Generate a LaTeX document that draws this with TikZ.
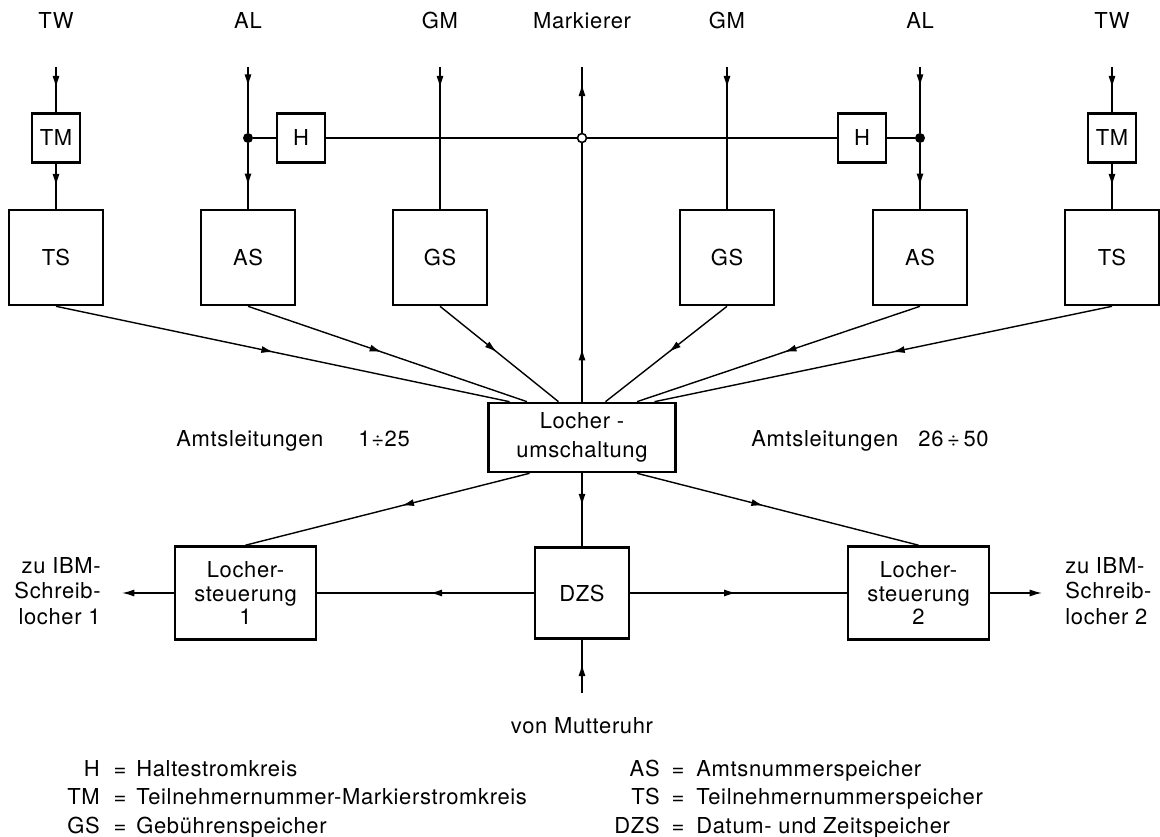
\documentclass[tikz,border=0pt]{standalone}
\usepackage{fontspec}
\setmainfont{TeX Gyre Heros}[LetterSpace=3]
\usetikzlibrary{arrows.meta,decorations.markings}
\tikzset{
  blk/.style={draw,line width=1.5pt,inner sep=0pt,align=center},
  bigblk/.style={blk,minimum width=1.88cm,minimum height=1.9cm},
  smallblk/.style={blk,minimum width=0.96cm,minimum height=0.98cm},
  lbl/.style={inner sep=0pt},
  wire/.style={line width=0.8pt},
  fwd/.style={postaction={decorate,decoration={markings,
      mark=at position #1 with {\arrow{Latex[length=7pt,width=4pt]}}}}},
  fwd/.default=0.5,
  outarr/.style={wire,-{Latex[length=7pt,width=4pt]}},
  joint/.style={circle,fill,inner sep=0pt,minimum size=0.2cm},
  ring/.style={circle,draw,fill=white,line width=0.9pt,inner sep=0pt,minimum size=0.18cm},
}
\begin{document}
\begin{tikzpicture}[x=0.02cm,y=-0.02cm,font=\fontsize{12.5}{15}\selectfont]
  \useasboundingbox (0,0) rectangle (1160,837);
  % top labels
  \node[lbl] (twl1) at (56,21) {TW};
  \node[lbl] (all1) at (248,21) {AL};
  \node[lbl] (gml1) at (440,21) {GM};
  \node[lbl] (mkl) at (582,21) {Markierer};
  \node[lbl] (gml2) at (727,21) {GM};
  \node[lbl] (all2) at (920,21) {AL};
  \node[lbl] (twl2) at (1112,21) {TW};
  \coordinate (tw1in) at (56,67);
  \coordinate (al1in) at (248,67);
  \coordinate (gm1in) at (440,67);
  \coordinate (mkout) at (582,67);
  \coordinate (gm2in) at (727,67);
  \coordinate (al2in) at (920,67);
  \coordinate (tw2in) at (1112,67);
  % blocks
  \node[smallblk] (tm1) at (56,138) {TM};
  \node[smallblk] (tm2) at (1112,138) {TM};
  \node[smallblk] (h1) at (301,138) {H};
  \node[smallblk] (h2) at (862,138) {H};
  \node[joint] (d1) at (248,138) {};
  \node[joint] (d2) at (920,138) {};
  \node[bigblk] (ts1) at (56,257.5) {TS};
  \node[bigblk] (as1) at (248,257.5) {AS};
  \node[bigblk] (gs1) at (440,257.5) {GS};
  \node[bigblk] (gs2) at (727,257.5) {GS};
  \node[bigblk] (as2) at (920,257.5) {AS};
  \node[bigblk] (ts2) at (1112,257.5) {TS};
  \node[blk,minimum width=3.74cm,minimum height=1.38cm,
        font=\fontsize{12.5}{16.5}\selectfont] (lu) at (582,437.5) {Locher -\\umschaltung};
  \node[blk,minimum width=2.82cm,minimum height=1.86cm,
        font=\fontsize{12.5}{13.5}\selectfont] (ls1) at (245.5,593) {Locher-\\steuerung\\1};
  \node[blk,minimum width=1.88cm,minimum height=1.82cm] (dzs) at (582,593) {DZS};
  \node[blk,minimum width=2.82cm,minimum height=1.86cm,
        font=\fontsize{12.5}{13.5}\selectfont] (ls2) at (918.5,593) {Locher-\\steuerung\\2};
  % inputs from top
  \draw[wire,fwd=0.47] (tw1in) -- (tm1);
  \draw[wire,fwd=0.5] (tm1) -- (ts1);
  \draw[wire,fwd=0.47] (tw2in) -- (tm2);
  \draw[wire,fwd=0.5] (tm2) -- (ts2);
  \draw[wire,fwd=0.3] (al1in) -- (d1);
  \draw[wire,fwd=0.65] (d1) -- (as1);
  \draw[wire,fwd=0.3] (al2in) -- (d2);
  \draw[wire,fwd=0.65] (d2) -- (as2);
  \draw[wire,fwd=0.15] (gm1in) -- (gs1);
  \draw[wire,fwd=0.15] (gm2in) -- (gs2);
  \draw[wire] (d1) -- (h1);
  \draw[wire] (d2) -- (h2);
  \draw[wire] (h1) -- (h2);
  \draw[wire,fwd=0.16,fwd=0.95] (lu.north) -- (mkout);
  \node[ring] (c0) at (582,138) {};
  % to Locherumschaltung
  \draw[wire,fwd=0.48] (ts1.south) -- ([xshift=-1.45cm]lu.north);
  \draw[wire,fwd=0.48] (as1.south) -- ([xshift=-1.1cm]lu.north);
  \draw[wire,fwd=0.48] (gs1.south) -- ([xshift=-0.47cm]lu.north);
  \draw[wire,fwd=0.48] (gs2.south) -- ([xshift=0.47cm]lu.north);
  \draw[wire,fwd=0.48] (as2.south) -- ([xshift=1.1cm]lu.north);
  \draw[wire,fwd=0.48] (ts2.south) -- ([xshift=1.45cm]lu.north);
  % lower part
  \draw[wire,fwd=0.45] ([xshift=-1.05cm]lu.south) -- (ls1.north);
  \draw[wire,fwd=0.45] (lu.south) -- (dzs);
  \draw[wire,fwd=0.45] ([xshift=1.1cm]lu.south) -- (ls2.north);
  \draw[wire,fwd=0.48] (dzs) -- (ls1);
  \draw[wire,fwd=0.49] (dzs) -- (ls2);
  \coordinate (out1) at (122,593);
  \coordinate (out2) at (1042,593);
  \draw[outarr] (ls1) -- (out1);
  \draw[outarr] (ls2) -- (out2);
  \node[lbl,anchor=east,align=right,font=\fontsize{12.5}{14.7}\selectfont] (ibm1) at (101,591) {zu IBM-\\Schreib-\\locher 1};
  \node[lbl,anchor=west,align=left,font=\fontsize{12.5}{14.7}\selectfont] (ibm2) at (1065,591) {zu IBM-\\Schreib-\\locher 2};
  \coordinate (mu) at (582,693);
  \draw[wire,fwd=0.55] (mu) -- (dzs);
  \node[lbl] (mul) at (582,726) {von Mutteruhr};
  \node[lbl,anchor=base west] (amt1) at (176,447) {Amtsleitungen\hspace{0.7cm}1÷25};
  \node[lbl,anchor=base west] (amt2) at (751,447) {Amtsleitungen\hspace{0.4cm}26\,÷\,50};
  % legend
  \foreach \k/\t [count=\i] in {H/Haltestromkreis,TM/Teilnehmernummer-Markierstromkreis,GS/Gebührenspeicher}
  {
    \node[lbl,anchor=base east] (kl\i) at (100,{776+28.5*(\i-1)}) {\k};
    \node[lbl,anchor=base] (ql\i) at (120,{776+28.5*(\i-1)}) {=};
    \node[lbl,anchor=base west] (el\i) at (136,{776+28.5*(\i-1)}) {\t};
  }
  \foreach \k/\t [count=\i] in {AS/Amtsnummerspeicher,TS/Teilnehmernummerspeicher,DZS/Datum- und Zeitspeicher}
  {
    \node[lbl,anchor=base east] (kr\i) at (660,{776+28.5*(\i-1)}) {\k};
    \node[lbl,anchor=base] (qr\i) at (678,{776+28.5*(\i-1)}) {=};
    \node[lbl,anchor=base west] (er\i) at (696,{776+28.5*(\i-1)}) {\t};
  }
\end{tikzpicture}
\end{document}
